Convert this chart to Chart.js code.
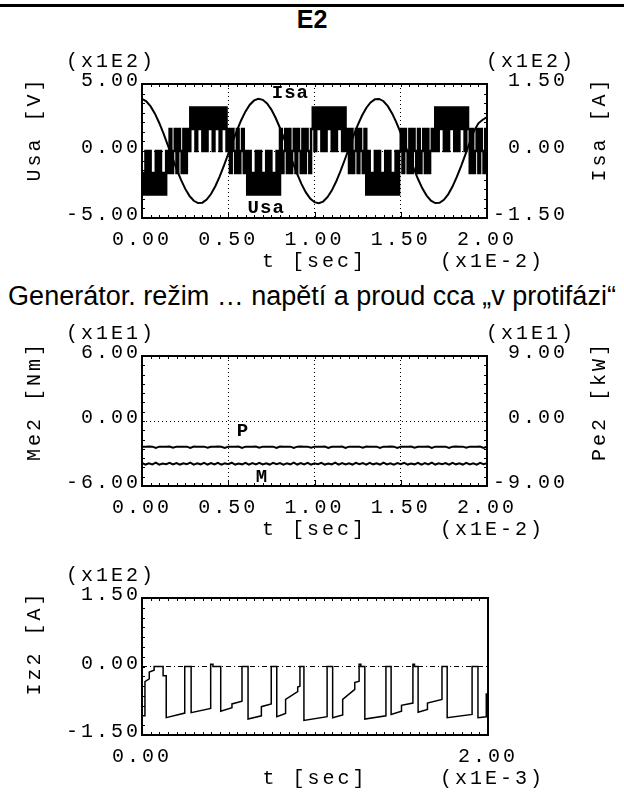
<!DOCTYPE html>
<html>
<head>
<meta charset="utf-8">
<script src="https://cdn.jsdelivr.net/npm/chart.js@4.4.0/dist/chart.umd.min.js"></script>
<style>
  html, body { margin: 0; padding: 0; background: #fff; }
  body { width: 624px; height: 796px; position: relative; overflow: hidden; font-family: 'Liberation Sans', Arial, sans-serif; }
  .rule { position: absolute; left: 0; top: 4px; width: 624px; height: 3px; background: #000; }
  .title { position: absolute; left: 0; width: 624px; text-align: center; color: #000; white-space: nowrap; }
  #t1 { top: 5px; font-size: 25px; font-weight: bold; }
  #t2 { top: 281px; font-size: 27px; }
  canvas { position: absolute; left: 0; }
</style>
</head>
<body>
<div class="rule"></div>
<div class="title" id="t1">E2</div>
<canvas id="c1" width="624" height="250" style="top:30px"></canvas>
<div class="title" id="t2">Generátor. režim … napětí a proud cca „v protifázi“</div>
<canvas id="c2" width="624" height="246" style="top:302px"></canvas>
<canvas id="c3" width="624" height="253" style="top:544px"></canvas>
<script>
// chart 1: Usa [x1E2 V] (left), Isa [x1E2 A] (right), t in x1E-2 s
const tIsa = [0,0.025,0.05,0.075,0.1,0.125,0.15,0.175,0.2,0.225,
  0.25,0.275,0.3,0.325,0.35,0.375,0.4,0.425,0.45,0.475,
  0.5,0.525,0.55,0.575,0.6,0.625,0.65,0.675,0.7,0.725,
  0.75,0.775,0.8,0.825,0.85,0.875,0.9,0.925,0.95,0.975,
  1,1.025,1.05,1.075,1.1,1.125,1.15,1.175,1.2,1.225,
  1.25,1.275,1.3,1.325,1.35,1.375,1.4,1.425,1.45,1.475,
  1.5,1.525,1.55,1.575,1.6,1.625,1.65,1.675,1.7,1.725,
  1.75,1.775,1.8,1.825,1.85,1.875,1.9,1.925,1.95,1.975,2];
const isa = [1.165,1.111,0.999,0.835,0.627,0.389,0.128,-0.139,-0.398,-0.637,
  -0.843,-1.004,-1.114,-1.166,-1.157,-1.089,-0.963,-0.789,-0.573,-0.326,
  -0.063,0.203,0.459,0.689,0.886,1.036,1.132,1.17,1.146,1.064,
  0.926,0.739,0.515,0.263,0,-0.265,-0.517,-0.741,-0.927,-1.064,
  -1.146,-1.17,-1.132,-1.035,-0.886,-0.689,-0.457,-0.201,0.065,0.326,
  0.573,0.789,0.964,1.089,1.157,1.166,1.114,1.004,0.842,0.637,
  0.398,0.139,-0.128,-0.389,-0.627,-0.835,-0.999,-1.111,-1.165,-1.16,
  -1.093,-0.97,-0.796,-0.581,-0.338,-0.075,0.191,0.448,0.62,0.7,0.76];

const tUsa = [0,0.01,0.02,0.03,0.04,0.05,0.06,0.07,0.08,0.09,
  0.1,0.11,0.12,0.13,0.14,0.15,0.16,0.17,0.18,0.19,
  0.2,0.21,0.22,0.23,0.24,0.25,0.26,0.27,0.28,0.29,
  0.3,0.31,0.32,0.33,0.34,0.35,0.36,0.37,0.38,0.39,
  0.4,0.41,0.42,0.43,0.44,0.45,0.46,0.47,0.48,0.49,
  0.5,0.51,0.52,0.53,0.54,0.55,0.56,0.57,0.58,0.59,
  0.6,0.61,0.62,0.63,0.64,0.65,0.66,0.67,0.68,0.69,
  0.7,0.71,0.72,0.73,0.74,0.75,0.76,0.77,0.78,0.79,
  0.8,0.81,0.82,0.83,0.84,0.85,0.86,0.87,0.88,0.89,
  0.9,0.91,0.92,0.93,0.94,0.95,0.96,0.97,0.98,0.99,
  1,1.01,1.02,1.03,1.04,1.05,1.06,1.07,1.08,1.09,
  1.1,1.11,1.12,1.13,1.14,1.15,1.16,1.17,1.18,1.19,
  1.2,1.21,1.22,1.23,1.24,1.25,1.26,1.27,1.28,1.29,
  1.3,1.31,1.32,1.33,1.34,1.35,1.36,1.37,1.38,1.39,
  1.4,1.41,1.42,1.43,1.44,1.45,1.46,1.47,1.48,1.49,
  1.5,1.51,1.52,1.53,1.54,1.55,1.56,1.57,1.58,1.59,
  1.6,1.61,1.62,1.63,1.64,1.65,1.66,1.67,1.68,1.69,
  1.7,1.71,1.72,1.73,1.74,1.75,1.76,1.77,1.78,1.79,
  1.8,1.81,1.82,1.83,1.84,1.85,1.86,1.87,1.88,1.89,
  1.9,1.91,1.92,1.93,1.94,1.95,1.96,1.97,1.98,1.99,2];
const usa = [-1.65,-3.25,0,-3.25,0,-3.25,-1.65,-3.25,0,-3.25,
  0,-3.25,-1.65,-3.25,0,-1.65,1.65,-1.65,0,1.65,
  -1.65,1.65,0,-1.65,1.65,-1.65,1.65,0,3.25,1.65,
  3.25,0,3.25,1.65,3.25,0,3.25,0,3.25,1.65,
  3.25,0,3.25,1.65,3.25,0,3.25,1.65,3.25,0,
  1.65,-1.65,1.65,0,-1.65,1.65,-1.65,0,1.65,-1.65,
  0,-3.25,0,-3.25,-1.65,-3.25,0,-3.25,0,-3.25,
  -1.65,-3.25,0,-3.25,0,-3.25,-1.65,-3.25,0,-3.25,
  1.65,-1.65,0,1.65,-1.65,1.65,-1.65,0,1.65,-1.65,
  1.65,0,-1.65,1.65,-1.65,1.65,0,-1.65,1.65,3.25,
  0,3.25,1.65,3.25,0,3.25,0,3.25,1.65,3.25,
  0,3.25,0,3.25,1.65,3.25,0,3.25,0,1.65,
  -1.65,1.65,-1.65,0,1.65,-1.65,1.65,0,-1.65,1.65,
  -3.25,0,-3.25,-1.65,-3.25,0,-3.25,0,-3.25,-1.65,
  -3.25,0,-3.25,0,-3.25,-1.65,-3.25,0,-3.25,0,
  1.65,-1.65,1.65,0,-1.65,1.65,-1.65,1.65,0,-1.65,
  1.65,-1.65,0,1.65,-1.65,1.65,-1.65,0,1.65,0,
  3.25,0,3.25,1.65,3.25,0,3.25,0,3.25,1.65,
  3.25,0,3.25,0,3.25,1.65,3.25,0,3.25,1.65,
  -1.65,1.65,-1.65,0,1.65,-1.65,1.65,0,-1.65,1.65,-1.65];

// chart 2: Me2 [x1E1 Nm] (left), Pe2 [x1E1 kW] (right)
const tPM = [0,0.02,0.04,0.06,0.08,0.1,0.12,0.14,0.16,0.18,
  0.2,0.22,0.24,0.26,0.28,0.3,0.32,0.34,0.36,0.38,
  0.4,0.42,0.44,0.46,0.48,0.5,0.52,0.54,0.56,0.58,
  0.6,0.62,0.64,0.66,0.68,0.7,0.72,0.74,0.76,0.78,
  0.8,0.82,0.84,0.86,0.88,0.9,0.92,0.94,0.96,0.98,
  1,1.02,1.04,1.06,1.08,1.1,1.12,1.14,1.16,1.18,
  1.2,1.22,1.24,1.26,1.28,1.3,1.32,1.34,1.36,1.38,
  1.4,1.42,1.44,1.46,1.48,1.5,1.52,1.54,1.56,1.58,
  1.6,1.62,1.64,1.66,1.68,1.7,1.72,1.74,1.76,1.78,
  1.8,1.82,1.84,1.86,1.88,1.9,1.92,1.94,1.96,1.98,2];
const pe2 = [-3.55,-3.56,-3.54,-3.55,-3.72,-3.55,-3.56,-3.55,-3.54,-3.7,
  -3.55,-3.56,-3.55,-3.55,-3.72,-3.54,-3.56,-3.55,-3.55,-3.7,
  -3.56,-3.55,-3.54,-3.56,-3.72,-3.55,-3.55,-3.56,-3.54,-3.72,
  -3.55,-3.56,-3.55,-3.54,-3.7,-3.55,-3.56,-3.55,-3.55,-3.72,
  -3.54,-3.56,-3.55,-3.55,-3.72,-3.55,-3.54,-3.56,-3.55,-3.7,
  -3.55,-3.56,-3.55,-3.54,-3.72,-3.56,-3.55,-3.55,-3.54,-3.72,
  -3.55,-3.55,-3.56,-3.55,-3.7,-3.54,-3.56,-3.55,-3.55,-3.72,
  -3.55,-3.56,-3.54,-3.55,-3.72,-3.55,-3.56,-3.55,-3.54,-3.7,
  -3.56,-3.55,-3.55,-3.54,-3.72,-3.55,-3.56,-3.55,-3.55,-3.72,
  -3.55,-3.54,-3.56,-3.55,-3.7,-3.55,-3.56,-3.55,-3.54,-3.72,-3.55];
const me2 = [-3.86,-4.02,-3.9,-4.0,-3.85,-4.03,-3.92,-3.98,-3.86,-4.01,
  -3.88,-4.02,-3.9,-3.99,-3.85,-4.03,-3.91,-4.0,-3.87,-4.02,
  -3.89,-4.01,-3.86,-4.03,-3.9,-3.98,-3.85,-4.02,-3.92,-4.0,
  -3.86,-4.03,-3.89,-4.0,-3.87,-4.01,-3.9,-4.02,-3.86,-3.99,
  -3.88,-4.03,-3.91,-4.0,-3.85,-4.02,-3.89,-4.01,-3.87,-4.03,
  -3.9,-3.99,-3.86,-4.02,-3.92,-4.0,-3.85,-4.03,-3.88,-4.01,
  -3.9,-4.02,-3.86,-3.98,-3.89,-4.03,-3.87,-4.0,-3.91,-4.02,
  -3.85,-4.01,-3.9,-4.03,-3.88,-3.99,-3.86,-4.02,-3.92,-4.0,
  -3.87,-4.03,-3.89,-4.01,-3.85,-4.02,-3.9,-3.99,-3.88,-4.03,
  -3.86,-4.0,-3.91,-4.02,-3.87,-4.01,-3.9,-4.03,-3.86,-3.99,-3.9];

// chart 3: Iz2 [x1E2 A], t in x1E-3 s
const tIz = [0,0.017,0.017,0.042,0.042,0.07,0.07,0.122,0.122,0.14,
  0.14,0.247,0.247,0.284,0.284,0.397,0.397,0.41,0.41,0.455,
  0.455,0.52,0.52,0.578,0.578,0.613,0.613,0.69,0.69,0.747,
  0.747,0.779,0.779,0.83,0.83,0.9,0.9,0.913,0.913,0.936,
  0.936,1.07,1.07,1.102,1.102,1.16,1.16,1.23,1.23,1.255,
  1.255,1.265,1.265,1.288,1.288,1.41,1.41,1.44,1.44,1.5,
  1.5,1.566,1.566,1.575,1.575,1.596,1.596,1.65,1.65,1.734,
  1.734,1.764,1.764,1.908,1.908,1.942,1.942,1.99,1.99,2];
const iz2 = [-1.08,-1.08,-0.33,-0.27,-0.12,-0.08,0,0,-0.2,-0.2,
  -1.12,-1.02,0,0,-1.01,-0.92,0.05,0.05,0,0,
  -0.98,-0.9,-0.82,-0.76,0,0,-1.15,-1.08,-0.88,-0.82,
  0,0,-1.1,-1.03,-0.72,-0.55,-0.45,-0.43,0,0,
  -1.18,-1.1,0,0,-1.12,-1.06,-0.72,-0.5,-0.35,-0.32,
  0.05,0.05,0,0,-1.15,-1.08,0,0,-1.05,-0.98,
  -0.85,-0.8,0.05,0.05,0,0,-1,-0.94,-0.8,-0.72,
  0,0,-1.12,-1.05,0,0,-1.12,-1.1,-0.6,-0.6];

const pts = (ts, vs) => ts.map((t, i) => ({ x: t, y: vs[i] }));
const fmt = (v) => v.toFixed(2);
const monoFont = { family: 'Liberation Mono', size: 20 };

// frame, minor ticks, exponent labels and curve names
const frame = {
  id: 'frame',
  beforeLayout(chart) { chart.ctx.letterSpacing = '3px'; },
  beforeDraw(chart) { chart.ctx.letterSpacing = '3px'; },
  afterDraw(chart, args, o) {
    const { ctx, chartArea: a, scales } = chart;
    const xs = scales.x;
    ctx.save();
    ctx.strokeStyle = '#000';
    ctx.fillStyle = '#000';
    ctx.lineWidth = 2;
    ctx.strokeRect(a.left, a.top, a.right - a.left, a.bottom - a.top);
    ctx.lineWidth = 1;
    ctx.beginPath();
    for (let i = 0; i <= 40; i++) {
      const px = Math.round(xs.getPixelForValue(xs.min + (xs.max - xs.min) * i / 40)) + 0.5;
      const len = (o.major && i % 10 === 0) ? 6 : 3;
      ctx.moveTo(px, a.bottom); ctx.lineTo(px, a.bottom - len);
      ctx.moveTo(px, a.top); ctx.lineTo(px, a.top + 3);
    }
    for (let i = 0; i <= 14; i++) {
      const py = Math.round(a.top + (a.bottom - a.top) * i / 14) + 0.5;
      ctx.moveTo(a.left, py); ctx.lineTo(a.left + 3, py);
      if (o.rightTicks) { ctx.moveTo(a.right, py); ctx.lineTo(a.right - 3, py); }
    }
    ctx.stroke();

    ctx.font = '20px "Liberation Mono"';
    ctx.textBaseline = 'middle';
    ctx.textAlign = 'left';
    const ty = a.top - 22;
    ctx.fillText(o.expLeft, 66, ty);
    if (o.expRight) ctx.fillText(o.expRight, 486, ty);
    ctx.fillText(o.expX, 440, a.bottom + 44);
    for (const [text, x] of o.yTitles) {
      ctx.save();
      ctx.translate(x, a.top + 45);
      ctx.rotate(-Math.PI / 2);
      ctx.textAlign = 'center';
      ctx.fillText(text, 0, 0);
      ctx.restore();
    }
    ctx.font = 'bold 19px "Liberation Mono"';
    ctx.textAlign = 'center';
    ctx.letterSpacing = '1px';
    for (const n of o.notes) {
      ctx.fillText(n.text, xs.getPixelForValue(n.x), scales[n.axis].getPixelForValue(n.y));
    }
    ctx.restore();
  }
};

function xAxis(step, ticksAt) {
  return {
    type: 'linear', min: 0, max: 2,
    ticks: { stepSize: step, callback: fmt, font: monoFont, color: '#000', padding: 10, maxRotation: 0, autoSkip: false },
    grid: { drawTicks: false, lineWidth: 1, color: (c) => (ticksAt && c.tick.value > 0 && c.tick.value < 2) ? '#000' : 'rgba(0,0,0,0)' },
    border: { display: false, dash: [1, 3] },
    title: { display: true, text: 't [sec]', font: monoFont, color: '#000', padding: { top: 0, bottom: 6 } },
    afterFit: (s) => { s.height = 62; }
  };
}
function yAxis(pos, lim, zeroDash, width) {
  return {
    position: pos, min: -lim, max: lim,
    ticks: { stepSize: lim, callback: fmt, font: monoFont, color: '#000', padding: pos === 'left' ? 1 : 6, labelOffset: -3, crossAlign: pos === 'left' ? 'near' : 'far' },
    grid: { display: !!zeroDash, drawTicks: false, lineWidth: 1, color: (c) => c.tick.value === 0 ? '#000' : 'rgba(0,0,0,0)' },
    border: { display: false, dash: zeroDash || [] },
    afterFit: (s) => { s.width = width; }
  };
}
function baseOptions(scales, frameOpts, rightPad) {
  return {
    responsive: false, animation: false, events: [],
    layout: { padding: { top: 54, right: rightPad, bottom: 0, left: 0 } },
    plugins: { legend: { display: false }, tooltip: { enabled: false }, frame: frameOpts },
    scales
  };
}
const lineSet = (data, axis, width, extra) => Object.assign({
  data, yAxisID: axis, borderColor: '#000', borderWidth: width, pointRadius: 0, tension: 0, fill: false
}, extra || {});

new Chart(document.getElementById('c1'), {
  type: 'line',
  data: { datasets: [
    lineSet(pts(tUsa, usa), 'y', 2.5, { stepped: true }),
    lineSet(pts(tIsa, isa), 'y1', 2)
  ] },
  options: baseOptions({
    x: xAxis(0.5, true),
    y: yAxis('left', 5, [1, 3], 142),
    y1: yAxis('right', 1.5, null, 81)
  }, {
    major: true, rightTicks: true, expLeft: '(x1E2)', expRight: '(x1E2)', expX: '(x1E-2)',
    yTitles: [['Usa [V]', 35], ['Isa [A]', 600]],
    notes: [{ text: 'Isa', x: 0.86, y: 4.3, axis: 'y' }, { text: 'Usa', x: 0.72, y: -4.3, axis: 'y' }]
  }, 56),
  plugins: [frame]
});

new Chart(document.getElementById('c2'), {
  type: 'line',
  data: { datasets: [
    lineSet(pts(tPM, pe2), 'y1', 2),
    lineSet(pts(tPM, me2), 'y', 2)
  ] },
  options: baseOptions({
    x: xAxis(0.5, true),
    y: yAxis('left', 6, [1, 3], 142),
    y1: yAxis('right', 9, null, 81)
  }, {
    major: true, rightTicks: true, expLeft: '(x1E1)', expRight: '(x1E1)', expX: '(x1E-2)',
    yTitles: [['Me2 [Nm]', 35], ['Pe2 [kW]', 600]],
    notes: [{ text: 'P', x: 0.585, y: -0.9, axis: 'y' }, { text: 'M', x: 0.695, y: -5.2, axis: 'y' }]
  }, 56),
  plugins: [frame]
});

new Chart(document.getElementById('c3'), {
  type: 'line',
  data: { datasets: [ lineSet(pts(tIz, iz2), 'y', 1.5) ] },
  options: baseOptions({
    x: xAxis(2, false),
    y: yAxis('left', 1.5, [5, 3, 1, 3], 142)
  }, {
    major: false, rightTicks: false, expLeft: '(x1E2)', expRight: null, expX: '(x1E-3)',
    yTitles: [['Iz2 [A]', 35]],
    notes: []
  }, 136),
  plugins: [frame]
});
</script>
</body>
</html>
